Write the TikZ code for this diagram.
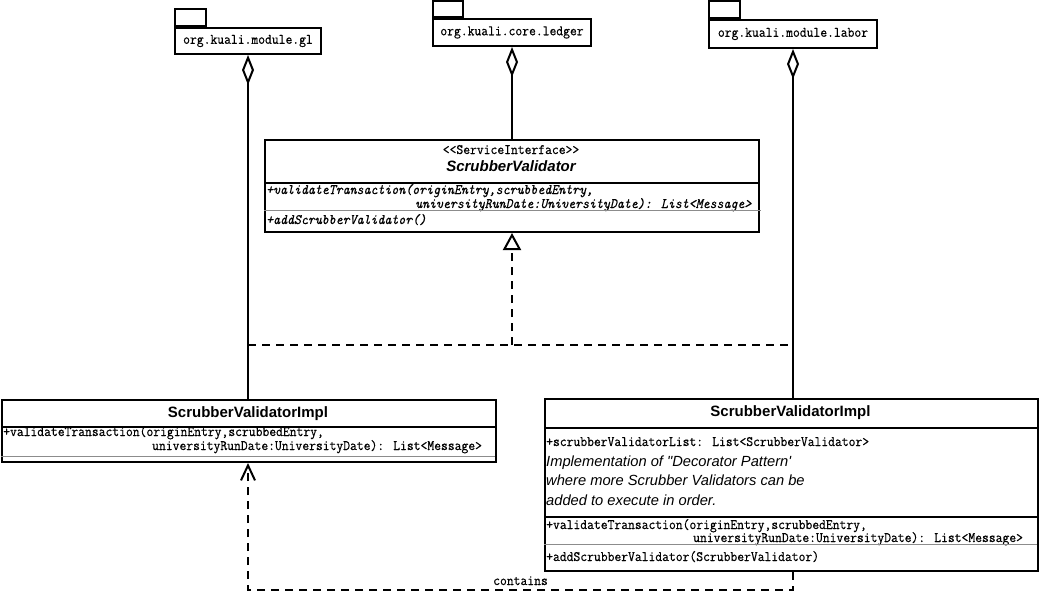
\documentclass[tikz,border=0pt]{standalone}
\usepackage{fontspec}
\newfontfamily\uisans{Liberation Sans}
\newfontfamily\umlmonofam{Latin Modern Mono}[FakeStretch=0.92, FakeBold=0.5]
\usetikzlibrary{arrows.meta}

% fonts used in the class boxes
\newcommand\umlmono{\fontsize{14.4}{17}\selectfont\umlmonofam}
\newcommand\umlmonoit{\fontsize{14.4}{17}\selectfont\umlmonofam\itshape}
\newcommand\umltitle{\fontsize{15}{18}\selectfont\uisans\bfseries}
\newcommand\umlnote{\fontsize{14.7}{18}\selectfont\uisans\itshape}

\tikzset{
  box/.style={draw, line width=2pt, fill=white, inner sep=0pt, anchor=north west},
  sep/.style={line width=2pt},
  uline/.style={line width=1pt, black!45},
  txt/.style={inner sep=0pt, text height=9pt, text depth=3pt},
  op/.style={txt, anchor=west, font=\umlmono},
  opit/.style={txt, anchor=west, font=\umlmonoit},
  note/.style={inner sep=0pt, text height=10.5pt, text depth=3pt, anchor=west, font=\umlnote},
  aggr/.style={line width=2pt, {Diamond[open, length=30pt, width=12pt, line width=2pt]}-},
  dashline/.style={line width=2pt, dash pattern=on 8pt off 6pt},
  real/.style={dashline, -{Triangle[open, length=17pt, width=18pt, line width=2pt]}},
  dep/.style={dashline, -{Straight Barb[length=15pt, width=14pt, line width=2pt]}},
}

\begin{document}
\begin{tikzpicture}[x=1pt, y=-1pt]
\useasboundingbox (0,0) rectangle (1039,608);

% packages
\node[box, minimum width=146pt, minimum height=26pt, font=\umlmono] (gl) at (174,27) {org.kuali.module.gl};
\node[box, minimum width=31pt, minimum height=17pt, anchor=south west] (gltab) at (gl.north west) {};
\node[box, minimum width=158pt, minimum height=27pt, font=\umlmono] (ledger) at (432,18) {org.kuali.core.ledger};
\node[box, minimum width=30pt, minimum height=16pt, anchor=south west] (ledgertab) at (ledger.north west) {};
\node[box, minimum width=168pt, minimum height=28pt, font=\umlmono] (labor) at (708,19) {org.kuali.module.labor};
\node[box, minimum width=31pt, minimum height=17pt, anchor=south west] (labortab) at (labor.north west) {};

% service interface
\node[box, minimum width=494pt, minimum height=92pt] (iface) at (264,139) {};
\draw[sep] (264,183) -- (758,183);
\node[txt, font=\umlmono] (ifstereo) at (511,151) {<<ServiceInterface>>};
\node[txt, font=\umltitle\itshape] (ifname) at (511,168) {ScrubberValidator};
\node[opit] (ifop1) at (266,191) {+validateTransaction(originEntry,scrubbedEntry,};
\node[opit] (ifop2) at (415,205) {universityRunDate:UniversityDate): List<Message>};
\draw[uline] (264,210.5) -- (761,210.5);
\node[opit] (ifop3) at (266,221) {+addScrubberValidator()};

% left implementation
\node[box, minimum width=494pt, minimum height=62pt] (implL) at (1,399) {};
\draw[sep] (1,427) -- (495,427);
\node[txt, font=\umltitle] (implLname) at (248,414) {ScrubberValidatorImpl};
\node[op] (implLop1) at (3,433) {+validateTransaction(originEntry,scrubbedEntry,};
\node[op] (implLop2) at (152,447) {universityRunDate:UniversityDate): List<Message>};
\draw[uline] (1,456.5) -- (495,456.5);

% right implementation
\node[box, minimum width=493pt, minimum height=172pt] (implR) at (544,398) {};
\draw[sep] (544,428) -- (1037,428);
\draw[sep] (544,517) -- (1037,517);
\node[txt, font=\umltitle] (implRname) at (790.5,413) {ScrubberValidatorImpl};
\node[op] (implRattr) at (546,443) {+scrubberValidatorList: List<ScrubberValidator>};
\node[note] (implRn1) at (546,463) {Implementation of "Decorator Pattern'};
\node[note] (implRn2) at (546,482) {where more Scrubber Validators can be};
\node[note] (implRn3) at (546,502) {added to execute in order.};
\node[op] (implRop1) at (546,526) {+validateTransaction(originEntry,scrubbedEntry,};
\node[op] (implRop2) at (693,539) {universityRunDate:UniversityDate): List<Message>};
\draw[uline] (544,544.5) -- (1037,544.5);
\node[op] (implRop3) at (546,558) {+addScrubberValidator(ScrubberValidator)};

% package membership
\draw[aggr] (gl.south) -- (gl.south |- implL.north);
\draw[aggr] (ledger.south) -- (iface.north);
\draw[aggr] (labor.south) -- (labor.south |- implR.north);

% realization of the interface
\coordinate (jL) at (gl.south |- 0,345);
\coordinate (jM) at (iface.south |- 0,345);
\coordinate (jR) at (labor.south |- 0,345);
\draw[dashline] (jL) -- (jR);
\draw[real] (jM) -- (iface.south);

% dependency between the implementations
\coordinate (depR) at (labor.south |- 0,590);
\coordinate (depL) at (gl.south |- 0,590);
\draw[dep] (labor.south |- implR.south) -- (depR) -- node[txt, font=\umlmono, above=1pt] (deplabel) {contains} (depL) -- (gl.south |- implL.south);
\end{tikzpicture}
\end{document}
